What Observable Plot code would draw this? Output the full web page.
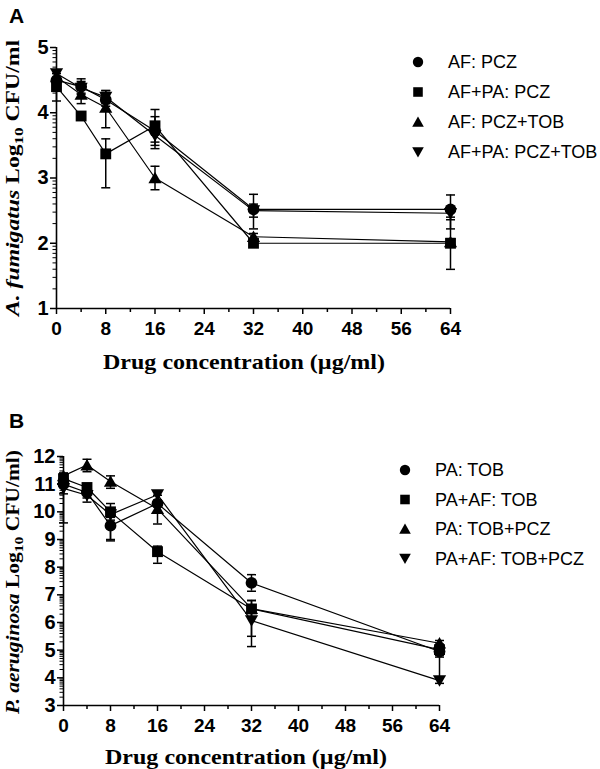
<!DOCTYPE html>
<html><head><meta charset="utf-8">
<script src="https://cdn.jsdelivr.net/npm/d3@7"></script>
<script src="https://cdn.jsdelivr.net/npm/@observablehq/plot@0.6"></script>
<style>body{margin:0;background:#fff} #wrap{width:600px;height:769px;overflow:hidden}</style>
</head><body><div id="wrap"></div>
<script>
// ---------- data ----------
const conc = [0, 4, 8, 16, 32, 64];
const xTicks = [0, 8, 16, 24, 32, 40, 48, 56, 64];
const xMinor = [4, 12, 20, 28, 36, 44, 52, 60];

// Panel A: A. fumigatus
const seriesA = ["AF: PCZ", "AF+PA: PCZ", "AF: PCZ+TOB", "AF+PA: PCZ+TOB"];
const afPCZ      = [4.50, 4.40, 4.20, 3.72, 2.52, 2.52];
const afpaPCZ    = [4.40, 3.95, 3.37, 3.80, 2.00, 2.00];
const afPCZTOB   = [4.55, 4.28, 4.08, 3.00, 2.10, 2.02];
const afpaPCZTOB = [4.60, 4.38, 4.24, 3.65, 2.50, 2.46];
const errLoA = [
  [0.10, 0.10, 0.10, 0.22, 0.30, 0.30],
  [0.22, 0.05, 0.52, 0.25, 0.05, 0.40],
  [0.10, 0.14, 0.31, 0.18, 0.05, 0.05],
  [0.10, 0.10, 0.10, 0.20, 0.10, 0.10]
];
const errHiA = [
  [0.10, 0.12, 0.14, 0.22, 0.23, 0.22],
  [0.10, 0.05, 0.23, 0.25, 0.05, 0.40],
  [0.10, 0.10, 0.10, 0.18, 0.05, 0.05],
  [0.05, 0.10, 0.10, 0.15, 0.10, 0.10]
];
const yTicksA = [1, 2, 3, 4, 5];

// Panel B: P. aeruginosa
const seriesB = ["PA: TOB", "PA+AF: TOB", "PA: TOB+PCZ", "PA+AF: TOB+PCZ"];
const paTOB      = [11.00, 10.70, 9.50, 10.30, 7.43, 4.95];
const paafTOB    = [11.20, 10.88, 10.00, 8.56, 6.49, 5.02];
const paTOBPCZ   = [11.30, 11.69, 11.10, 10.11, 6.50, 5.25];
const paafTOBPCZ = [10.85, 10.60, 9.90, 10.62, 6.07, 3.90];
const errLoB = [
  [1.40, 0.20, 0.50, 0.30, 0.30, 0.20],
  [0.30, 0.20, 1.05, 0.42, 0.30, 0.20],
  [0.20, 0.24, 0.25, 0.55, 1.00, 0.10],
  [0.20, 0.25, 0.20, 0.20, 0.94, 0.10]
];
const errHiB = [
  [0.30, 0.20, 0.30, 0.30, 0.30, 0.20],
  [0.20, 0.10, 0.30, 0.20, 0.30, 0.20],
  [0.10, 0.21, 0.20, 0.20, 0.30, 0.10],
  [0.20, 0.20, 0.20, 0.10, 0.50, 1.00]
];
const yTicksB = [3, 4, 5, 6, 7, 8, 9, 10, 11, 12];

// ---------- symbols ----------
const rOf = size => Math.sqrt(size / Math.PI);
const symCircle = {draw(c, s) { const r = rOf(s); c.moveTo(r, 0); c.arc(0, 0, r, 0, 2 * Math.PI); }};
const symSquare = {draw(c, s) { const r = rOf(s) * 0.92; c.moveTo(-r, -r); c.lineTo(r, -r); c.lineTo(r, r); c.lineTo(-r, r); c.closePath(); }};
const symUp = {draw(c, s) { const r = rOf(s); const w = r * 1.12, h = r; c.moveTo(0, -h * 1.05); c.lineTo(w, h * 0.9); c.lineTo(-w, h * 0.9); c.closePath(); }};
const symDown = {draw(c, s) { const r = rOf(s); const w = r * 1.12, h = r; c.moveTo(0, h * 1.05); c.lineTo(w, -h * 0.9); c.lineTo(-w, -h * 0.9); c.closePath(); }};
const symCap = {draw(c, s) { const r = rOf(s); c.moveTo(-r, 0); c.lineTo(r, 0); }};
const symbols = [symCircle, symSquare, symUp, symDown];

function minorLog(lo, hi) {
  const out = [];
  for (let v = lo; v < hi; v++) for (let k = 2; k <= 9; k++) out.push(v + Math.log10(k));
  return out;
}

function panel(cfg) {
  const rows = [];
  cfg.series.forEach((s, i) => conc.forEach((c, j) => {
    const v = cfg.values[i][j];
    rows.push({series: s, x: c, y: v, lo: v - cfg.errLo[i][j], hi: v + cfg.errHi[i][j]});
  }));
  const y0 = cfg.yTicks[0], y1 = cfg.yTicks[cfg.yTicks.length - 1];
  const svg = Plot.plot({
    width: 600, height: cfg.height,
    marginTop: cfg.mt, marginBottom: cfg.mb, marginLeft: cfg.ml, marginRight: cfg.mr,
    x: {domain: [0, 64]},
    y: {domain: [y0, y1]},
    style: {fontFamily: "'Liberation Sans', Arial, sans-serif", color: "black", background: "white", overflow: "visible"},
    marks: [
      Plot.axisX({ticks: xTicks, tickSize: 6, tickPadding: 7, strokeWidth: 1.5, fontSize: 19, fontWeight: "bold", tickFormat: d => String(d), label: null}),
      Plot.axisX({ticks: xMinor, tickSize: 4, tickFormat: () => "", strokeWidth: 1.5, label: null}),
      Plot.axisY({ticks: cfg.yTicks, tickSize: 6, tickPadding: 2, strokeWidth: 1.5, fontSize: 20, fontWeight: "bold", tickFormat: d => String(d), label: null}),
      Plot.axisY({ticks: minorLog(y0, y1), tickSize: 3.5, tickFormat: () => "", strokeWidth: 1, label: null}),
      Plot.ruleY([y0], {stroke: "black", strokeWidth: 1.6}),
      Plot.ruleX([0], {stroke: "black", strokeWidth: 1.6}),
      Plot.line(rows, {x: "x", y: "y", z: "series", stroke: "black", strokeWidth: 1.2}),
      Plot.ruleX(rows, {x: "x", y1: "lo", y2: "hi", stroke: "black", strokeWidth: 1.5}),
      Plot.dot(rows, {x: "x", y: "lo", symbol: symCap, r: 4.5, stroke: "black", strokeWidth: 1.5, fill: "none"}),
      Plot.dot(rows, {x: "x", y: "hi", symbol: symCap, r: 4.5, stroke: "black", strokeWidth: 1.5, fill: "none"}),
      ...cfg.series.map((s, i) => Plot.dot(rows.filter(d => d.series === s),
        {x: "x", y: "y", symbol: symbols[i], r: 5.9, fill: "black", stroke: "none"}))
    ]
  });
  const g = d3.select(svg);
  // panel letter
  g.append("text").attr("x", 9).attr("y", cfg.letterY).attr("text-anchor", "start")
    .attr("font-family", "'Liberation Sans', Arial, sans-serif").attr("font-weight", "bold")
    .attr("font-size", 21).text(cfg.letter);
  // x title
  g.append("text").attr("x", cfg.xTitleX).attr("y", cfg.xTitleY).attr("text-anchor", "middle")
    .attr("font-family", "'Liberation Serif', 'Times New Roman', serif").attr("font-weight", "bold")
    .attr("font-size", 21).attr("textLength", 282).attr("lengthAdjust", "spacingAndGlyphs")
    .text("Drug concentration (\u00b5g/ml)");
  // y title
  const yt = g.append("text").attr("transform", `translate(${cfg.yTitleX},${cfg.yTitleY}) rotate(-90)`)
    .attr("text-anchor", "middle")
    .attr("font-family", "'Liberation Serif', 'Times New Roman', serif").attr("font-weight", "bold")
    .attr("font-size", 18).attr("textLength", cfg.yTitleLen).attr("lengthAdjust", "spacingAndGlyphs");
  yt.append("tspan").attr("font-style", "italic").text(cfg.organism);
  yt.append("tspan").text(" Log");
  yt.append("tspan").attr("font-size", 13).attr("dy", 3.5).text("10");
  yt.append("tspan").attr("dy", -3.5).text(" CFU/ml" + cfg.tail);
  // legend
  cfg.series.forEach((s, i) => {
    const ly = cfg.legY + i * cfg.legStep;
    g.append("path").attr("transform", `translate(${cfg.legX},${ly})`)
      .attr("d", d3.symbol(symbols[i], Math.PI * 5.2 * 5.2)()).attr("fill", "black");
    g.append("text").attr("x", cfg.legX + 30).attr("y", ly + 6).attr("text-anchor", "start")
      .attr("font-family", "'Liberation Sans', Arial, sans-serif").attr("font-weight", "normal")
      .attr("font-size", 18).text(s);
  });
  return svg;
}

const wrap = document.getElementById("wrap");
wrap.append(panel({
  series: seriesA, values: [afPCZ, afpaPCZ, afPCZTOB, afpaPCZTOB], errLo: errLoA, errHi: errHiA,
  yTicks: yTicksA, height: 385, mt: 47, mb: 77, ml: 56, mr: 150,
  letter: "A", letterY: 23, xTitleX: 244, xTitleY: 369, yTitleX: 19, yTitleY: 178, yTitleLen: 276,
  organism: "A. fumigatus", tail: "", legX: 418, legY: 62, legStep: 30
}));
wrap.append(panel({
  series: seriesB, values: [paTOB, paafTOB, paTOBPCZ, paafTOBPCZ], errLo: errLoB, errHi: errHiB,
  yTicks: yTicksB, height: 384, mt: 71, mb: 64, ml: 63, mr: 161,
  letter: "B", letterY: 43, xTitleX: 246, xTitleY: 379, yTitleX: 19, yTitleY: 197, yTitleLen: 264,
  organism: "P. aeruginosa", tail: ")", legX: 405, legY: 85, legStep: 29.5
}));
</script>
</body></html>
